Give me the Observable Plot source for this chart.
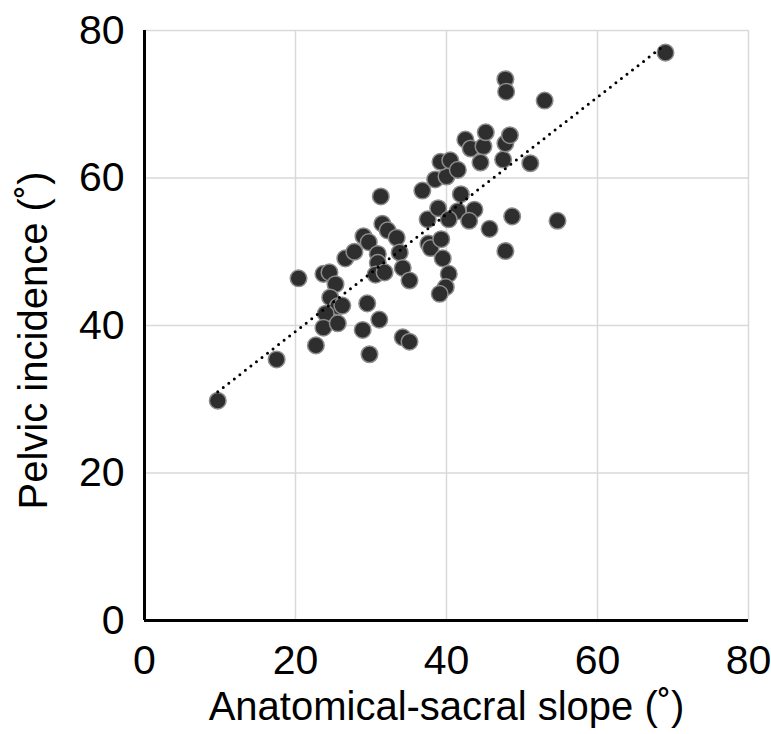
<!DOCTYPE html>
<html><head><meta charset="utf-8">
<script src="https://cdn.jsdelivr.net/npm/d3@7"></script>
<script src="https://cdn.jsdelivr.net/npm/@observablehq/plot@0.6"></script>
<style>body{margin:0;background:#fff}</style>
</head><body><div id="chart"></div>
<script>
const slope = [9.7,17.5,20.4,22.7,23.7,24.5,25.3,24.6,25.6,26.2,24.0,23.7,25.6,26.6,27.8,29.0,29.7,30.9,30.9,30.6,31.8,29.5,31.1,28.9,29.8,31.3,31.5,32.2,33.4,33.8,34.2,35.1,34.2,35.1,36.8,37.5,37.6,37.9,38.9,39.3,39.5,40.3,39.9,39.1,38.5,40.0,39.2,40.5,41.5,41.9,41.5,40.3,43.7,43.0,45.7,42.5,43.2,44.9,45.2,44.5,47.5,47.8,48.4,47.8,47.9,53.0,51.1,48.7,54.7,47.8,69.0];
const incidence = [29.8,35.4,46.4,37.3,47.0,47.2,45.6,43.8,42.6,42.7,41.6,39.7,40.3,49.1,50.0,52.1,51.3,49.7,48.5,46.9,47.2,43.0,40.8,39.4,36.1,57.5,53.8,52.9,51.9,49.9,47.8,46.1,38.4,37.8,58.3,54.4,51.1,50.5,55.9,51.7,49.1,47.0,45.2,44.3,59.8,60.2,62.2,62.4,61.1,57.8,55.5,54.4,55.7,54.2,53.1,65.2,64.0,64.3,66.2,62.1,62.5,64.7,65.8,73.4,71.7,70.5,62.0,54.8,54.2,50.1,77.0];
const xTicks = [0, 20, 40, 60, 80];
const yTicks = [0, 20, 40, 60, 80];
const xLabel = "Anatomical-sacral slope (˚)";
const yLabel = "Pelvic incidence (˚)";

const data = slope.map((s, i) => ({slope: s, incidence: incidence[i]}));

const chart = Plot.plot({
  width: 771, height: 734,
  marginLeft: 144, marginRight: 23, marginTop: 30, marginBottom: 114,
  style: {fontFamily: "Arial, 'Liberation Sans', sans-serif", background: "#fff", color: "#000", overflow: "visible"},
  x: {domain: [0, 80]},
  y: {domain: [0, 80]},
  marks: [
    Plot.gridX(xTicks, {stroke: "#d9d9d9", strokeOpacity: 1, strokeWidth: 1.5}),
    Plot.gridY(yTicks, {stroke: "#d9d9d9", strokeOpacity: 1, strokeWidth: 1.5}),
    Plot.axisX({ticks: xTicks, tickSize: 0, tickPadding: 24, fontSize: 41, label: null}),
    Plot.axisY({ticks: yTicks, tickSize: 0, tickPadding: 20, fontSize: 41, label: null}),
    Plot.ruleX([0], {stroke: "#000", strokeWidth: 3}),
    Plot.ruleY([0], {stroke: "#000", strokeWidth: 3}),
    Plot.dot(data, {x: "slope", y: "incidence", r: 8.3, fill: "#2e2e2e", stroke: "#8c8c8c", strokeWidth: 1.5}),
    Plot.linearRegressionY(data, {x: "slope", y: "incidence", ci: 0, stroke: "#000", strokeWidth: 3, strokeDasharray: "0,7", strokeLinecap: "round"}),
    Plot.text([xLabel], {frameAnchor: "bottom", textAnchor: "middle", dy: 99, fontSize: 40, fill: "#000", text: d => d}),
    Plot.text([yLabel], {frameAnchor: "left", textAnchor: "middle", dx: -110, dy: 15, rotate: -90, fontSize: 40, fill: "#000", text: d => d})
  ]
});
document.getElementById("chart").appendChild(chart);
</script>
</body></html>
